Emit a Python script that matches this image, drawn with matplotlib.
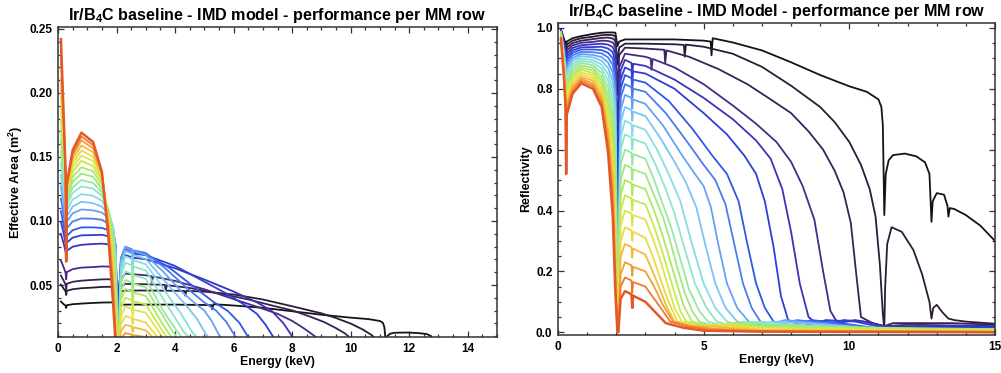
import matplotlib
matplotlib.use("Agg")
import matplotlib.pyplot as plt
from matplotlib.ticker import MultipleLocator

# ================= DATA =================
# energies (keV) shared by every MM row below the Ir M edge
LOW_E = [0.10, 0.20, 0.26, 0.28, 0.30, 0.50, 0.80, 1.20, 1.50, 1.72, 1.88, 1.97, 2.04]

# reflectivity below the edge, one row per MM row (row 0 = black, row 21 = red)
refl_low = [
    [0.995, 0.965, 0.950, 0.925, 0.955, 0.966, 0.973, 0.980, 0.984, 0.985, 0.985, 0.984, 0.940],
    [0.995, 0.960, 0.940, 0.910, 0.945, 0.958, 0.966, 0.971, 0.976, 0.977, 0.976, 0.972, 0.880],
    [0.993, 0.955, 0.930, 0.895, 0.935, 0.950, 0.958, 0.963, 0.967, 0.968, 0.965, 0.957, 0.780],
    [0.992, 0.950, 0.920, 0.880, 0.925, 0.942, 0.951, 0.954, 0.958, 0.957, 0.952, 0.938, 0.620],
    [0.991, 0.945, 0.910, 0.865, 0.915, 0.934, 0.943, 0.946, 0.948, 0.945, 0.937, 0.915, 0.450],
    [0.990, 0.940, 0.900, 0.850, 0.905, 0.926, 0.936, 0.937, 0.938, 0.932, 0.920, 0.888, 0.300],
    [0.989, 0.935, 0.890, 0.835, 0.895, 0.918, 0.929, 0.929, 0.927, 0.918, 0.900, 0.857, 0.180],
    [0.988, 0.930, 0.880, 0.820, 0.885, 0.910, 0.921, 0.920, 0.916, 0.903, 0.878, 0.822, 0.100],
    [0.987, 0.925, 0.870, 0.800, 0.873, 0.901, 0.914, 0.911, 0.904, 0.886, 0.853, 0.783, 0.050],
    [0.986, 0.920, 0.860, 0.780, 0.861, 0.892, 0.907, 0.903, 0.892, 0.868, 0.826, 0.740, 0.020],
    [0.985, 0.915, 0.850, 0.760, 0.849, 0.883, 0.899, 0.894, 0.879, 0.848, 0.797, 0.693, 0.0],
    [0.984, 0.910, 0.840, 0.740, 0.837, 0.874, 0.892, 0.886, 0.866, 0.826, 0.766, 0.643, 0.0],
    [0.982, 0.900, 0.830, 0.720, 0.825, 0.865, 0.885, 0.877, 0.852, 0.803, 0.733, 0.590, 0.0],
    [0.980, 0.895, 0.820, 0.700, 0.813, 0.856, 0.877, 0.869, 0.838, 0.779, 0.698, 0.534, 0.0],
    [0.978, 0.890, 0.810, 0.680, 0.800, 0.847, 0.870, 0.860, 0.826, 0.753, 0.661, 0.476, 0.0],
    [0.976, 0.880, 0.800, 0.660, 0.788, 0.838, 0.863, 0.851, 0.814, 0.726, 0.622, 0.417, 0.0],
    [0.974, 0.875, 0.790, 0.640, 0.776, 0.829, 0.855, 0.843, 0.801, 0.710, 0.600, 0.358, 0.0],
    [0.972, 0.870, 0.780, 0.620, 0.763, 0.820, 0.848, 0.834, 0.789, 0.690, 0.555, 0.300, 0.0],
    [0.970, 0.860, 0.770, 0.600, 0.751, 0.811, 0.840, 0.826, 0.777, 0.665, 0.515, 0.245, 0.0],
    [0.968, 0.855, 0.760, 0.580, 0.739, 0.802, 0.833, 0.817, 0.765, 0.640, 0.475, 0.195, 0.0],
    [0.966, 0.850, 0.750, 0.550, 0.726, 0.793, 0.826, 0.809, 0.752, 0.615, 0.430, 0.155, 0.0],
    [0.964, 0.840, 0.740, 0.520, 0.714, 0.784, 0.818, 0.800, 0.740, 0.590, 0.380, 0.130, 0.0],
]

# effective area (m^2) below the edge, same rows and energies
area_low = [
    [0.0371, 0.0349, 0.0338, 0.0321, 0.0342, 0.0350, 0.0355, 0.0360, 0.0363, 0.0364, 0.0364, 0.0363, 0.0331],
    [0.0504, 0.0469, 0.0450, 0.0422, 0.0455, 0.0467, 0.0475, 0.0480, 0.0485, 0.0486, 0.0485, 0.0481, 0.0394],
    [0.0574, 0.0531, 0.0503, 0.0466, 0.0509, 0.0525, 0.0534, 0.0540, 0.0544, 0.0545, 0.0542, 0.0533, 0.0354],
    [0.0692, 0.0634, 0.0595, 0.0544, 0.0601, 0.0624, 0.0636, 0.0640, 0.0645, 0.0644, 0.0637, 0.0618, 0.0270],
    [0.0900, 0.0818, 0.0758, 0.0685, 0.0767, 0.0799, 0.0814, 0.0820, 0.0823, 0.0818, 0.0804, 0.0767, 0.0185],
    [0.0994, 0.0896, 0.0821, 0.0733, 0.0830, 0.0870, 0.0888, 0.0890, 0.0892, 0.0881, 0.0858, 0.0800, 0.0091],
    [0.1077, 0.0962, 0.0872, 0.0767, 0.0882, 0.0928, 0.0950, 0.0950, 0.0946, 0.0928, 0.0892, 0.0808, 0.0036],
    [0.1174, 0.1041, 0.0931, 0.0808, 0.0942, 0.0996, 0.1020, 0.1018, 0.1009, 0.0980, 0.0928, 0.0813, 0.0012],
    [0.1271, 0.1117, 0.0988, 0.0835, 0.0994, 0.1060, 0.1090, 0.1083, 0.1066, 0.1024, 0.0950, 0.0800, 0.0003],
    [0.1358, 0.1182, 0.1034, 0.0849, 0.1035, 0.1112, 0.1150, 0.1139, 0.1112, 0.1052, 0.0953, 0.0766, 0.0001],
    [0.1453, 0.1254, 0.1082, 0.0866, 0.1080, 0.1168, 0.1210, 0.1197, 0.1158, 0.1077, 0.0951, 0.0719, 0.0],
    [0.1545, 0.1321, 0.1127, 0.0875, 0.1119, 0.1219, 0.1270, 0.1253, 0.1197, 0.1088, 0.0937, 0.0659, 0.0],
    [0.1625, 0.1366, 0.1162, 0.0873, 0.1148, 0.1261, 0.1320, 0.1297, 0.1224, 0.1087, 0.0905, 0.0587, 0.0],
    [0.1711, 0.1427, 0.1198, 0.0873, 0.1178, 0.1306, 0.1370, 0.1345, 0.1251, 0.1082, 0.0868, 0.0508, 0.0],
    [0.1793, 0.1486, 0.1231, 0.0867, 0.1201, 0.1345, 0.1420, 0.1388, 0.1280, 0.1064, 0.0820, 0.0426, 0.0],
    [0.1880, 0.1527, 0.1263, 0.0860, 0.1225, 0.1385, 0.1470, 0.1428, 0.1307, 0.1040, 0.0764, 0.0343, 0.0],
    [0.1961, 0.1583, 0.1289, 0.0847, 0.1244, 0.1419, 0.1510, 0.1469, 0.1326, 0.1041, 0.0744, 0.0264, 0.0],
    [0.2037, 0.1632, 0.1311, 0.0828, 0.1255, 0.1449, 0.1550, 0.1501, 0.1342, 0.1026, 0.0664, 0.0194, 0.0],
    [0.2119, 0.1666, 0.1335, 0.0811, 0.1270, 0.1482, 0.1590, 0.1536, 0.1360, 0.0996, 0.0597, 0.0135, 0.0],
    [0.2250, 0.1717, 0.1358, 0.0789, 0.1283, 0.1510, 0.1630, 0.1567, 0.1375, 0.0962, 0.0530, 0.0089, 0.0],
    [0.2330, 0.1759, 0.1369, 0.0736, 0.1283, 0.1531, 0.1660, 0.1592, 0.1376, 0.0921, 0.0450, 0.0058, 0.0],
    [0.2420, 0.1782, 0.1383, 0.0683, 0.1288, 0.1553, 0.1690, 0.1617, 0.1383, 0.0879, 0.0365, 0.0043, 0.0],
]

# above the edge every row has its own energy points (keV)
refl_high_e = [
    [2.1, 2.3, 3.0, 4.0, 5.0, 5.24, 5.27, 5.31, 6.0, 7.0, 8.0, 9.0, 10.0, 10.6, 11.0, 11.1, 11.15, 11.2,
     11.25, 11.35, 11.5, 11.9, 12.3, 12.6, 12.75, 12.82, 12.86, 13.0, 13.25, 13.37, 13.4, 13.45, 13.6,
     14.0, 14.5, 15.0],
    [2.1, 2.3, 3.0, 4.0, 4.32, 4.35, 4.39, 5.0, 6.0, 7.0, 8.0, 9.0, 9.5, 10.0, 10.4, 10.7, 10.9, 11.05,
     11.15, 11.2, 11.23, 11.3, 11.45, 11.8, 12.2, 12.5, 12.75, 12.82, 12.88, 13.0, 13.2, 13.4, 13.6,
     14.0, 15.0],
    [2.1, 2.3, 3.0, 3.65, 3.68, 3.72, 4.5, 5.5, 6.5, 7.3, 8.0, 8.6, 9.1, 9.5, 9.8, 10.05, 10.25, 10.4,
     10.8, 11.2, 11.5, 12.5, 13.5, 15.0],
    [2.1, 2.3, 3.0, 3.18, 3.21, 3.25, 4.0, 5.0, 6.0, 6.8, 7.5, 8.0, 8.4, 8.8, 9.1, 9.35, 9.6, 10.2,
     10.8, 11.2, 12.0, 15.0],
    [2.07, 2.15, 2.3, 2.52, 2.55, 2.58, 3.0, 4.0, 5.0, 6.0, 6.8, 7.3, 7.7, 8.0, 8.3, 8.6, 9.0, 9.8,
     10.5, 11.2, 15.0],
    [2.07, 2.15, 2.3, 2.52, 2.55, 2.58, 3.0, 4.0, 5.0, 5.8, 6.4, 6.8, 7.1, 7.4, 7.65, 7.9, 8.4, 9.2,
     10.2, 11.2, 15.0],
    [2.07, 2.15, 2.3, 2.52, 2.55, 2.58, 3.0, 3.8, 4.6, 5.3, 5.8, 6.2, 6.5, 6.8, 7.1, 7.4, 7.9, 8.7,
     9.7, 11.2, 15.0],
    [2.07, 2.15, 2.3, 2.52, 2.55, 2.58, 3.0, 3.7, 4.4, 5.0, 5.4, 5.75, 6.05, 6.35, 6.65, 6.95, 7.4,
     8.2, 9.2, 11.2, 15.0],
    [2.07, 2.15, 2.3, 2.52, 2.55, 2.58, 3.0, 3.6, 4.2, 4.7, 5.0, 5.25, 5.5, 5.8, 6.15, 6.55, 7.0, 7.8,
     8.8, 11.2, 15.0],
    [2.07, 2.15, 2.3, 2.52, 2.55, 2.58, 3.0, 3.5, 4.0, 4.4, 4.75, 5.05, 5.4, 5.75, 6.15, 6.6, 7.4,
     8.4, 11.2, 15.0],
    [2.07, 2.15, 2.3, 2.52, 2.55, 2.58, 3.0, 3.4, 3.8, 4.2, 4.6, 5.0, 5.4, 5.8, 6.3, 7.0, 8.0, 11.2, 15.0],
    [2.07, 2.15, 2.3, 2.52, 2.55, 2.58, 3.0, 3.35, 3.7, 4.0, 4.3, 4.7, 5.1, 5.45, 6.0, 6.7, 7.6, 11.2, 15.0],
    [2.07, 2.15, 2.3, 2.52, 2.55, 2.58, 3.0, 3.3, 3.6, 3.9, 4.2, 4.5, 4.85, 5.15, 5.7, 6.4, 7.3, 11.2, 15.0],
    [2.07, 2.15, 2.3, 2.52, 2.55, 2.58, 3.0, 3.3, 3.6, 3.85, 4.1, 4.35, 4.6, 4.85, 5.4, 6.1, 7.0, 11.2, 15.0],
    [2.07, 2.15, 2.3, 2.52, 2.55, 2.58, 3.0, 3.3, 3.55, 3.8, 4.05, 4.3, 4.6, 5.2, 6.0, 7.0, 15.0],
    [2.07, 2.15, 2.3, 2.52, 2.55, 2.58, 3.0, 3.25, 3.5, 3.75, 4.0, 4.2, 4.4, 5.0, 5.8, 7.0, 15.0],
    [2.07, 2.15, 2.3, 2.52, 2.55, 2.58, 3.0, 3.25, 3.5, 3.75, 4.0, 4.25, 4.8, 5.6, 7.0, 15.0],
    [2.07, 2.15, 2.3, 2.52, 2.55, 2.58, 3.0, 3.25, 3.5, 3.75, 4.1, 4.7, 5.5, 7.0, 15.0],
    [2.07, 2.15, 2.3, 2.52, 2.55, 2.58, 3.0, 3.25, 3.5, 3.75, 4.0, 4.6, 5.4, 7.0, 15.0],
    [2.07, 2.15, 2.3, 2.52, 2.55, 2.58, 3.0, 3.3, 3.6, 3.95, 4.5, 5.3, 7.0, 15.0],
    [2.07, 2.15, 2.3, 2.52, 2.55, 2.58, 3.0, 3.3, 3.6, 3.85, 4.4, 5.2, 7.0, 15.0],
    [2.07, 2.15, 2.3, 2.52, 2.55, 2.58, 3.0, 3.3, 3.7, 4.3, 5.0, 7.0, 15.0],
]

# reflectivity above the edge
refl_high_r = [
    [0.955, 0.962, 0.962, 0.962, 0.958, 0.955, 0.91, 0.966, 0.952, 0.926, 0.887, 0.845, 0.808, 0.79, 0.765,
     0.74, 0.68, 0.385, 0.52, 0.565, 0.582, 0.587, 0.578, 0.558, 0.52, 0.363, 0.43, 0.457, 0.452, 0.415,
     0.38, 0.408, 0.405, 0.385, 0.35, 0.30],
    [0.935, 0.948, 0.948, 0.946, 0.944, 0.905, 0.945, 0.938, 0.915, 0.872, 0.81, 0.74, 0.69, 0.625, 0.55,
     0.47, 0.38, 0.22, 0.06, 0.01, 0.15, 0.29, 0.345, 0.33, 0.27, 0.19, 0.10, 0.045, 0.08, 0.09, 0.065,
     0.045, 0.04, 0.035, 0.028],
    [0.91, 0.935, 0.932, 0.928, 0.885, 0.926, 0.905, 0.865, 0.815, 0.765, 0.72, 0.66, 0.60, 0.53, 0.46,
     0.36, 0.18, 0.05, 0.03, 0.02, 0.03, 0.03, 0.03, 0.025],
    [0.87, 0.915, 0.905, 0.90, 0.862, 0.898, 0.87, 0.815, 0.745, 0.685, 0.625, 0.56, 0.48, 0.37, 0.2,
     0.07, 0.03, 0.04, 0.03, 0.02, 0.025, 0.02],
    [0.65, 0.86, 0.895, 0.885, 0.852, 0.882, 0.875, 0.83, 0.77, 0.70, 0.63, 0.57, 0.47, 0.33, 0.16,
     0.05, 0.02, 0.04, 0.035, 0.02, 0.02],
    [0.55, 0.83, 0.870, 0.86, 0.825, 0.857, 0.85, 0.80, 0.72, 0.65, 0.58, 0.52, 0.43, 0.28, 0.12,
     0.04, 0.02, 0.04, 0.035, 0.015, 0.015],
    [0.45, 0.80, 0.845, 0.835, 0.80, 0.83, 0.82, 0.76, 0.67, 0.58, 0.52, 0.43, 0.29, 0.16, 0.08,
     0.035, 0.02, 0.04, 0.03, 0.01, 0.01],
    [0.35, 0.77, 0.815, 0.805, 0.77, 0.80, 0.79, 0.72, 0.63, 0.55, 0.50, 0.42, 0.29, 0.16, 0.08,
     0.035, 0.02, 0.04, 0.03, 0.01, 0.01],
    [0.27, 0.73, 0.78, 0.77, 0.735, 0.765, 0.75, 0.68, 0.59, 0.52, 0.48, 0.41, 0.29, 0.16, 0.08,
     0.035, 0.02, 0.04, 0.03, 0.01, 0.01],
    [0.20, 0.69, 0.74, 0.73, 0.695, 0.725, 0.71, 0.64, 0.56, 0.49, 0.41, 0.29, 0.16, 0.08, 0.035,
     0.02, 0.035, 0.03, 0.01, 0.01],
    [0.14, 0.64, 0.695, 0.685, 0.645, 0.68, 0.665, 0.60, 0.52, 0.43, 0.29, 0.16, 0.08, 0.035, 0.02,
     0.035, 0.025, 0.01, 0.01],
    [0.10, 0.60, 0.65, 0.64, 0.60, 0.635, 0.62, 0.55, 0.47, 0.39, 0.29, 0.16, 0.08, 0.035, 0.02,
     0.035, 0.025, 0.01, 0.01],
    [0.06, 0.55, 0.60, 0.59, 0.55, 0.585, 0.57, 0.50, 0.42, 0.34, 0.24, 0.14, 0.07, 0.035, 0.02,
     0.035, 0.025, 0.01, 0.01],
    [0.03, 0.50, 0.55, 0.54, 0.50, 0.535, 0.52, 0.45, 0.38, 0.30, 0.21, 0.13, 0.07, 0.035, 0.02,
     0.03, 0.02, 0.01, 0.01],
    [0.0, 0.45, 0.50, 0.49, 0.45, 0.485, 0.47, 0.40, 0.33, 0.25, 0.17, 0.09, 0.035, 0.02, 0.03, 0.02, 0.01],
    [0.0, 0.40, 0.45, 0.44, 0.40, 0.435, 0.42, 0.36, 0.29, 0.21, 0.13, 0.07, 0.035, 0.02, 0.028, 0.015, 0.005],
    [0.0, 0.35, 0.40, 0.39, 0.35, 0.385, 0.37, 0.31, 0.24, 0.16, 0.08, 0.035, 0.02, 0.025, 0.01, 0.004],
    [0.0, 0.30, 0.345, 0.335, 0.30, 0.33, 0.31, 0.25, 0.18, 0.11, 0.035, 0.02, 0.022, 0.008, 0.003],
    [0.0, 0.25, 0.29, 0.28, 0.245, 0.275, 0.255, 0.20, 0.14, 0.08, 0.035, 0.02, 0.018, 0.006, 0.002],
    [0.0, 0.19, 0.23, 0.22, 0.185, 0.215, 0.20, 0.15, 0.09, 0.035, 0.02, 0.012, 0.004, 0.002],
    [0.0, 0.15, 0.18, 0.17, 0.13, 0.165, 0.15, 0.11, 0.07, 0.035, 0.02, 0.008, 0.003, 0.001],
    [0.0, 0.11, 0.135, 0.125, 0.08, 0.12, 0.10, 0.07, 0.03, 0.015, 0.005, 0.002, 0.0],
]

# effective area above the edge, at the first energies of each row (until it leaves the plot)
area_high = [
    [0.0342, 0.0347, 0.0347, 0.0347, 0.0344, 0.0342, 0.0311, 0.0350, 0.0340, 0.0322, 0.0295, 0.0268,
     0.0245, 0.0234, 0.0219, 0.0205, 0.0173, 0.0056, 0.0101, 0.0120, 0.0127, 0.0129, 0.0125, 0.0117,
     0.0101, 0.0049, 0.0069],
    [0.0445, 0.0457, 0.0457, 0.0455, 0.0454, 0.0417, 0.0455, 0.0448, 0.0426, 0.0387, 0.0334, 0.0279,
     0.0242, 0.0199, 0.0154, 0.0112, 0.0073, 0.0025],
    [0.0482, 0.0509, 0.0506, 0.0501, 0.0456, 0.0499, 0.0477, 0.0435, 0.0387, 0.0341, 0.0302, 0.0254,
     0.0210, 0.0163, 0.0123, 0.0075, 0.0019],
    [0.0532, 0.0589, 0.0576, 0.0569, 0.0522, 0.0567, 0.0532, 0.0467, 0.0390, 0.0330, 0.0275, 0.0220,
     0.0162, 0.0096, 0.0028],
    [0.0387, 0.0677, 0.0734, 0.0717, 0.0665, 0.0713, 0.0701, 0.0631, 0.0543, 0.0449, 0.0364, 0.0298,
     0.0202, 0.0100, 0.0023],
    [0.0307, 0.0699, 0.0768, 0.0750, 0.0690, 0.0745, 0.0733, 0.0649, 0.0526, 0.0428, 0.0341, 0.0274,
     0.0187, 0.0079, 0.0015],
    [0.0223, 0.0705, 0.0786, 0.0768, 0.0705, 0.0758, 0.0740, 0.0636, 0.0494, 0.0370, 0.0298, 0.0204,
     0.0093, 0.0028],
    [0.0147, 0.0713, 0.0799, 0.0780, 0.0713, 0.0770, 0.0751, 0.0624, 0.0477, 0.0364, 0.0301, 0.0212,
     0.0101, 0.0031],
    [0.0095, 0.0695, 0.0794, 0.0774, 0.0705, 0.0764, 0.0734, 0.0603, 0.0454, 0.0353, 0.0301, 0.0219,
     0.0110, 0.0033],
    [0.0056, 0.0665, 0.0765, 0.0744, 0.0675, 0.0734, 0.0704, 0.0572, 0.0438, 0.0335, 0.0235, 0.0117, 0.0036],
    [0.0029, 0.0614, 0.0724, 0.0703, 0.0623, 0.0693, 0.0662, 0.0539, 0.0405, 0.0277, 0.0126, 0.0038],
    [0.0016, 0.0575, 0.0674, 0.0654, 0.0575, 0.0644, 0.0614, 0.0483, 0.0353, 0.0243, 0.0134, 0.0041],
    [0.0006, 0.0510, 0.0607, 0.0587, 0.0510, 0.0577, 0.0548, 0.0422, 0.0297, 0.0195, 0.0097, 0.0033],
    [0.0002, 0.0446, 0.0539, 0.0520, 0.0446, 0.0510, 0.0482, 0.0361, 0.0257, 0.0160, 0.0079],
    [0.0, 0.0380, 0.0469, 0.0450, 0.0380, 0.0441, 0.0414, 0.0300, 0.0204, 0.0117, 0.0054],
    [0.0, 0.0316, 0.0400, 0.0382, 0.0316, 0.0373, 0.0348, 0.0256, 0.0166, 0.0087],
    [0.0, 0.0253, 0.0331, 0.0314, 0.0253, 0.0306, 0.0283, 0.0199, 0.0119, 0.0053],
    [0.0, 0.0194, 0.0257, 0.0242, 0.0194, 0.0235, 0.0207, 0.0135, 0.0070],
    [0.0, 0.0141, 0.0189, 0.0177, 0.0135, 0.0170, 0.0146, 0.0090, 0.0044],
    [0.0, 0.0085, 0.0124, 0.0114, 0.0080, 0.0109, 0.0094, 0.0053],
    [0.0, 0.0055, 0.0079, 0.0070, 0.0041, 0.0066, 0.0055, 0.0029],
    [0.0, 0.0031, 0.0046, 0.0039, 0.0016],
]

TITLE_LEFT = "Ir/B$_4$C baseline - IMD model - performance per MM row"
TITLE_RIGHT = "Ir/B$_4$C baseline - IMD Model - performance per MM row"

# ================= STYLE =================
ROW_COLORS = ['#141414', '#2b1d38', '#3a2258', '#4a2a85', '#3b33b8', '#2d3fd8', '#3058e6',
              '#4a7cf0', '#66a2f4', '#7cc4f2', '#86dde6', '#8ee6c6', '#96e8a2', '#a2e880',
              '#b2e762', '#c8e84e', '#dce64a', '#ecd944', '#f2bc3a', '#f29c34', '#ee7a2e', '#e4572a']

plt.rcParams['font.family'] = ['Liberation Sans', 'DejaVu Sans']
plt.rcParams['font.weight'] = 'bold'
plt.rcParams['mathtext.fontset'] = 'custom'
plt.rcParams['mathtext.rm'] = 'Liberation Sans:bold'
plt.rcParams['mathtext.default'] = 'rm'

fig = plt.figure(figsize=(10.01, 3.73), dpi=100)
ax1 = fig.add_axes([58 / 1001, 36 / 373, 439 / 1001, 310 / 373])
ax2 = fig.add_axes([558 / 1001, 38 / 373, 437 / 1001, 312 / 373])

# ================= CURVES =================
for k in range(len(refl_low)):
    lw = 1.8 if k == len(refl_low) - 1 else 1.3
    e_all = LOW_E + refl_high_e[k]
    ax2.plot(e_all, refl_low[k] + refl_high_r[k], color=ROW_COLORS[k], lw=lw)
    n = len(area_high[k])
    ax1.plot(LOW_E + refl_high_e[k][:n], area_low[k] + area_high[k], color=ROW_COLORS[k], lw=lw)

# ================= AXES =================
ax1.set_xlim(0, 15)
ax1.set_ylim(0.0094, 0.2515)
ax1.xaxis.set_major_locator(MultipleLocator(2))
ax1.xaxis.set_minor_locator(MultipleLocator(0.5))
ax1.yaxis.set_major_locator(MultipleLocator(0.05))
ax1.yaxis.set_minor_locator(MultipleLocator(0.01))
ax1.yaxis.set_major_formatter(plt.FuncFormatter(lambda v, p: "%.2f" % v))
ax1.set_ylabel("Effective Area (m$^2$)", fontsize=9, fontweight='bold', labelpad=3)

ax2.set_xlim(0, 15)
ax2.set_ylim(-0.009, 1.016)
ax2.xaxis.set_major_locator(MultipleLocator(5))
ax2.xaxis.set_minor_locator(MultipleLocator(1))
ax2.yaxis.set_major_locator(MultipleLocator(0.2))
ax2.yaxis.set_minor_locator(MultipleLocator(0.05))
ax2.yaxis.set_major_formatter(plt.FuncFormatter(lambda v, p: "%.1f" % v))
ax2.set_ylabel("Reflectivity", fontsize=9, fontweight='bold', labelpad=3)

for ax, title in [(ax1, TITLE_LEFT), (ax2, TITLE_RIGHT)]:
    ax.set_title(title, fontsize=11.6, fontweight='bold', pad=5)
    ax.set_xlabel("Energy (keV)", fontsize=8.8, fontweight='bold', labelpad=1)
    ax.tick_params(which='both', direction='in', top=True, right=True, width=0.9, color='#333333')
    ax.tick_params(which='major', length=4.0, labelsize=8.5, pad=4)
    ax.tick_params(which='minor', length=2.0)
    for s in ax.spines.values():
        s.set_linewidth(1.1)
        s.set_color('#333333')
    for lab in ax.get_xticklabels() + ax.get_yticklabels():
        lab.set_fontweight('bold')

fig.savefig("out.png", dpi=100)
